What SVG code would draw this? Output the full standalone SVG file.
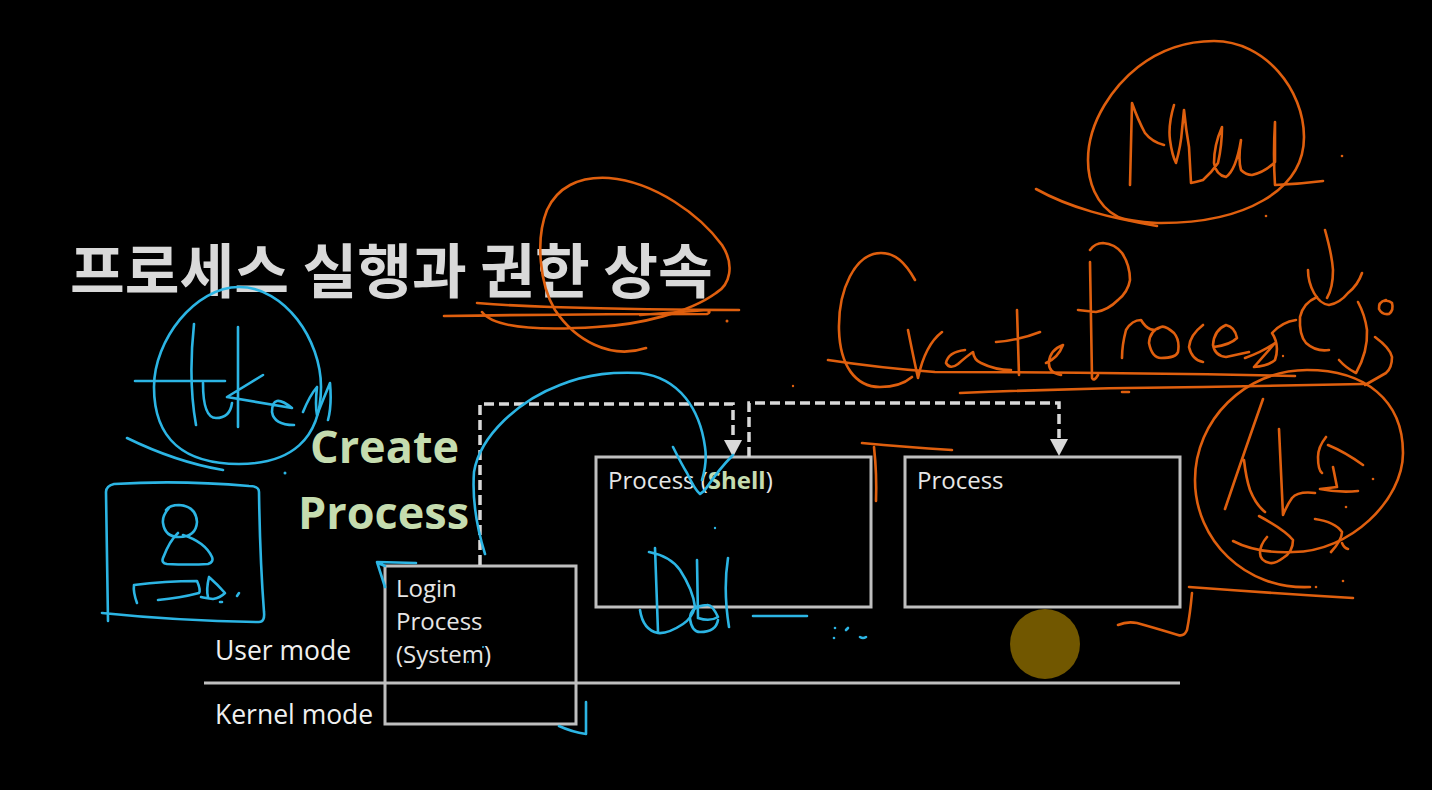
<svg xmlns="http://www.w3.org/2000/svg" width="1432" height="790" viewBox="0 0 1432 790">
<style>
.box{fill:none;stroke:#bfbfbf;stroke-width:3}
.dash{fill:none;stroke:#d9d9d9;stroke-width:3.5;stroke-dasharray:10 5}
.head{fill:#d9d9d9}
.t{font-family:"Open Sans","Noto Sans",sans-serif;fill:#e6e6e6;font-size:24px}
.m{font-family:"Open Sans","Noto Sans",sans-serif;fill:#f0f0f0;font-size:26.5px}
.g{font-family:"Open Sans","Noto Sans",sans-serif;font-weight:700;fill:#c5dcaf;font-size:45px}
.sb{font-weight:700;fill:#c5dcaf}
.title{font-family:"Noto Sans CJK KR",sans-serif;font-weight:700;fill:#d9d9d9;font-size:59.5px}
.b path{fill:none;stroke:#2cb5e4;stroke-width:2.6;stroke-linecap:round;stroke-linejoin:round}
.o path{fill:none;stroke:#df5f0e;stroke-width:2.6;stroke-linecap:round;stroke-linejoin:round}
.b circle{fill:#2cb5e4}.o circle{fill:#df5f0e}
</style>
<rect width="1432" height="790" fill="#000"/>
<text class="title" x="70" y="293">프로세스 실행과 권한 상속</text>
<g id="create-label"><text class="g" x="310" y="463">Create</text><text class="g" x="298" y="529">Process</text></g>
<g id="mode-line"><path class="box" d="M204 683H1180"/></g>
<text class="m" x="215" y="660">User mode</text>
<text class="m" x="215" y="724">Kernel mode</text>
<g id="login"><rect class="box" x="385" y="566" width="191" height="158"/><text class="t" x="396" y="597">Login</text><text class="t" x="396" y="630">Process</text><text class="t" x="396" y="663">(System)</text></g>
<g id="shell"><rect class="box" x="596" y="457" width="275" height="150"/><text class="t" x="608" y="489">Process (<tspan class="sb">Shell</tspan>)</text></g>
<g id="process"><rect class="box" x="905" y="457" width="275" height="150"/><text class="t" x="917" y="489">Process</text></g>
<g id="connectors">
<path class="dash" d="M480 565V404H733V441"/><path class="head" d="M724 440H742L733 457Z"/>
<path class="dash" d="M749 457V403H1059V438"/><path class="head" d="M1050 439H1068L1059 456Z"/>
</g>
<circle id="gold" cx="1045" cy="644" r="35" fill="#715700"/>
<g id="ink-blue" class="b">
<path d="M239 287C195 287 154 340 154 387C154 440 185 464 239 464C290 464 321 440 321 387C321 340 285 287 239 287Z"/>
<path d="M127 438Q176 462 223 470M194 324Q188 380 196 425M135 381L225 381M203 383Q203 418 216 418Q230 418 232 403M238 327V427M263 375L227 397L292 408Q272 392 272 412Q274 425 294 425M303 412Q310 395 317 387Q315 405 317 415Q325 395 330 383Q332 405 328 420"/>
<circle cx="285" cy="473" r="1.5"/>
<path d="M102 613Q180 621 259 622Q265 622 264 612Q260 560 259 492Q259 486 249 486Q180 480 114 484Q106 486 106 492L108 621"/>
<path d="M169 508Q162 516 163 523Q165 537 179 537Q196 537 197 522Q196 506 179 505Q170 505 166 510M178 533Q170 540 163 558Q161 563 167 564Q190 565 208 564Q214 562 212 557Q205 542 183 535"/>
<path d="M137 603Q133 592 134 585Q165 581 197 581Q201 590 199 593Q180 598 158 600M209 577Q206 590 208 597M209 577Q218 585 225 593Q220 598 213 599Q205 598 201 597M220 602L222 602M237 596L239 593"/>
<path d="M485 554C476 525 472 500 474 472C480 435 520 400 560 385C590 373 615 372 640 373C680 378 700 410 705 447C707 460 705 470 702 480M673 447Q682 465 687 473Q695 490 700 494Q704 492 707 487Q720 468 733 455"/>
<circle cx="715" cy="528" r="1.2"/>
<path d="M649 552Q670 556 680 570Q693 590 695 607Q692 618 683 624Q668 634 658 633Q643 630 640 610M655 548L658 632M697 560L698 618M698 618Q710 622 718 617Q712 604 707 605Q690 606 690 619Q692 632 700 632Q716 632 718 620M728 558Q723 590 729 627M753 616H807"/>
<circle cx="835" cy="628" r="1.3"/><circle cx="834" cy="638" r="1.3"/>
<path d="M846 630L848 628M860 637Q863 639 866 637"/>
<path d="M416 563L377 562L385 587M385 566L378 563M586 702V734Q572 732 559 726"/>
<circle cx="483" cy="647" r="1"/><circle cx="468" cy="662" r="1"/>
</g>
<g id="ink-orange" class="o">
<path d="M646 348C610 360 575 340 555 310C540 285 535 240 547 210C557 188 578 176 609 178C655 182 700 215 722 245C735 265 730 285 716 293C690 312 640 325 596 327C550 330 495 330 482 312"/>
<path d="M477 303Q515 306 551 307Q650 310 739 310M444 316Q580 314 707 314Q712 312 707 310L640 315"/>
<circle cx="727" cy="321" r="1.5"/>
<path d="M1118 217C1095 205 1088 180 1088 160C1088 120 1115 85 1138 67C1160 50 1185 41 1214 41C1265 41 1304 90 1304 137C1304 190 1245 224 1157 223C1140 222 1128 221 1118 217"/>
<path d="M1036 189C1070 208 1110 218 1157 226"/>
<path d="M1130 185Q1131 140 1132 103Q1138 120 1145 133Q1152 142 1164 145M1174 105Q1168 125 1170 140Q1172 155 1176 163Q1181 145 1182 130L1184 110Q1186 130 1189 147Q1190 165 1191 183Q1196 182 1203 180Q1212 172 1218 163Q1222 145 1222 127Q1214 145 1214 163Q1216 175 1226 177Q1236 170 1241 140Q1238 160 1241 170Q1246 175 1252 175Q1265 172 1275 162V122Q1273 155 1275 185Q1300 184 1323 181"/>
<circle cx="1342" cy="156" r="1.3"/><circle cx="1266" cy="216" r="1.3"/>
<path d="M915 280C905 262 895 253 881 253C855 253 838 290 839 330C840 365 855 387 880 387C895 387 905 383 912 377"/>
<path d="M908 330Q914 360 918 378Q925 345 942 332M965 350Q948 352 946 363Q950 370 958 364Q967 356 973 352Q974 360 981 363Q995 370 1011 370M1017 310Q1018 345 1019 375M996 342Q1020 340 1040 332M1046 363Q1058 358 1063 345Q1050 350 1049 362Q1048 373 1061 375"/>
<path d="M1090 262Q1091 320 1092 378Q1094 382 1098 375M1090 250Q1095 243 1103 243Q1115 244 1122 253Q1130 265 1130 280Q1128 292 1118 300Q1108 310 1096 312L1078 310"/>
<path d="M1122 358Q1122 345 1126 330M1126 330Q1132 320 1141 320Q1150 335 1161 327Q1150 330 1149 343Q1152 358 1161 358Q1176 358 1178 352Q1180 340 1174 333Q1165 325 1161 327M1203 325Q1190 335 1189 347Q1192 360 1203 362M1214 347Q1230 345 1237 338Q1235 327 1226 325Q1214 330 1213 345Q1215 356 1226 357L1249 352M1245 358Q1262 352 1275 343L1254 367Q1268 366 1275 360Q1280 345 1272 333Q1282 322 1296 320"/>
<path d="M1317 297Q1303 303 1300 317Q1299 335 1306 343Q1316 352 1329 350M1358 302Q1365 315 1367 330Q1368 352 1356 373Q1346 368 1339 360M1375 337Q1390 348 1392 357Q1392 368 1386 373L1365 385"/>
<path d="M1325 230Q1332 255 1333 270Q1333 288 1327 298M1308 270Q1308 282 1314 293Q1320 304 1329 305Q1340 303 1348 293Q1358 285 1362 273"/>
<path d="M1386 300Q1378 302 1379 309Q1382 315 1389 314Q1394 310 1392 303Q1389 300 1384 301"/>
<path d="M828 360Q880 368 935 372Q1110 372 1295 376M960 393Q1080 388 1203 387L1363 384M1122 392H1129"/>
<circle cx="793" cy="386" r="1.2"/><circle cx="1283" cy="356" r="1.2"/>
<path d="M1310 587C1245 590 1195 540 1195 480C1195 420 1245 370 1307 370C1365 370 1403 400 1403 453C1403 500 1350 552 1293 552C1270 553 1250 550 1233 541"/>
<path d="M1263 399Q1245 450 1225 509M1244 460Q1246 478 1250 490Q1256 505 1265 512M1279 429Q1281 475 1283 515Q1287 505 1292 498Q1298 491 1315 493M1326 437Q1318 447 1318 457Q1318 470 1322 473M1328 445Q1345 452 1363 465M1333 467L1337 487L1320 489Q1340 493 1358 491M1259 516Q1285 530 1293 540Q1293 552 1283 558Q1275 564 1270 563Q1260 561 1260 553Q1260 545 1267 537M1315 519Q1335 522 1342 532Q1342 540 1331 552M1342 543Q1344 548 1348 549"/>
<circle cx="1373" cy="479" r="1.3"/><circle cx="1346" cy="507" r="1.3"/><circle cx="1343" cy="581" r="1.3"/><circle cx="1316" cy="587" r="1.3"/>
<path d="M1189 587Q1270 593 1353 598M1192 593Q1190 615 1187 630Q1184 637 1178 635Q1155 628 1137 623Q1127 621 1118 625"/>
<path d="M862 443Q905 447 952 450M874 447Q877 475 876 501"/>
</g>
</svg>
